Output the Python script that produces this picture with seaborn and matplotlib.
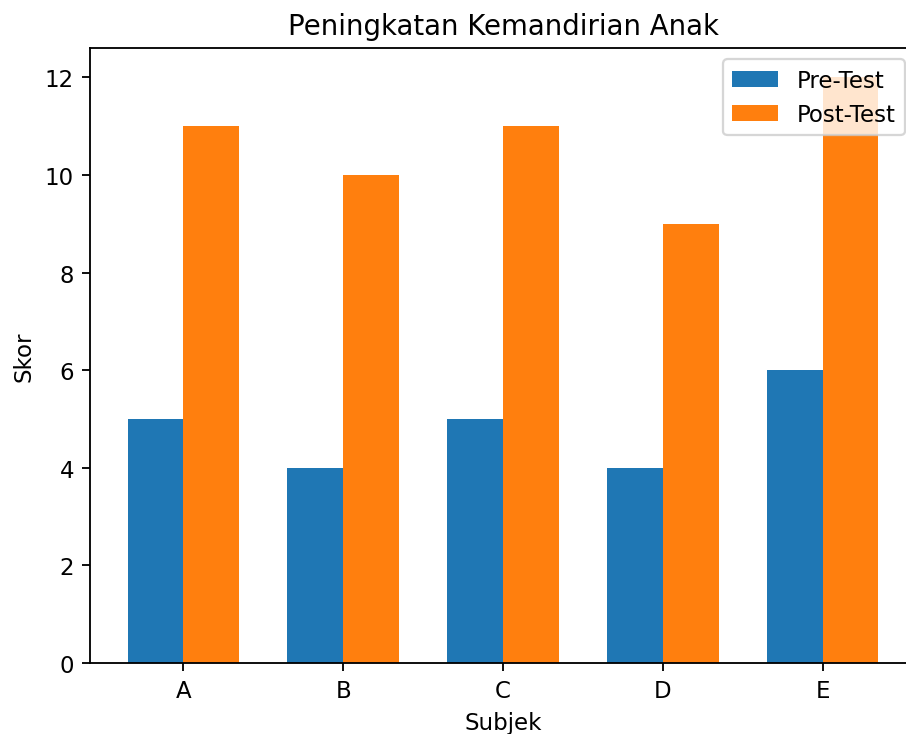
import matplotlib
matplotlib.use("Agg")
import matplotlib.pyplot as plt
import pandas as pd
import seaborn as sns

# Data
subjek = ["A", "B", "C", "D", "E"]
pre_test = [5, 4, 5, 4, 6]
post_test = [11, 10, 11, 9, 12]
series_names = ["Pre-Test", "Post-Test"]
colors = ["#1f77b4", "#ff7f0e"]

df = pd.DataFrame({
    "Subjek": subjek * 2,
    "Skor": pre_test + post_test,
    "Tes": [series_names[0]] * len(subjek) + [series_names[1]] * len(subjek),
})

DPI = 165
fig = plt.figure(figsize=(906 / DPI, 735 / DPI), dpi=DPI)
# the original was cropped on the right, so the axes run past the edge
ax = fig.add_axes([90 / 906, 71 / 735, 826 / 906, 615 / 735])

sns.barplot(
    data=df,
    x="Subjek",
    y="Skor",
    hue="Tes",
    hue_order=series_names,
    order=subjek,
    palette=colors,
    saturation=1,
    width=0.7,
    errorbar=None,
    linewidth=0,
    ax=ax,
)

pad = 0.05 * (len(subjek) - 1 + 0.7)
ax.set_xlim(-0.35 - pad, len(subjek) - 1 + 0.35 + pad)
ax.set_ylim(0, max(post_test) * 1.05)
ax.spines["right"].set_visible(False)  # cut off in the original

ax.set_title("Peningkatan Kemandirian Anak", fontsize=12)
ax.set_xlabel("Subjek")
ax.set_ylabel("Skor")

handles, labels = ax.get_legend_handles_labels()
ax.legend(handles, labels, loc="upper right", title=None)

fig.savefig("out.png", dpi=DPI)
plt.close(fig)
